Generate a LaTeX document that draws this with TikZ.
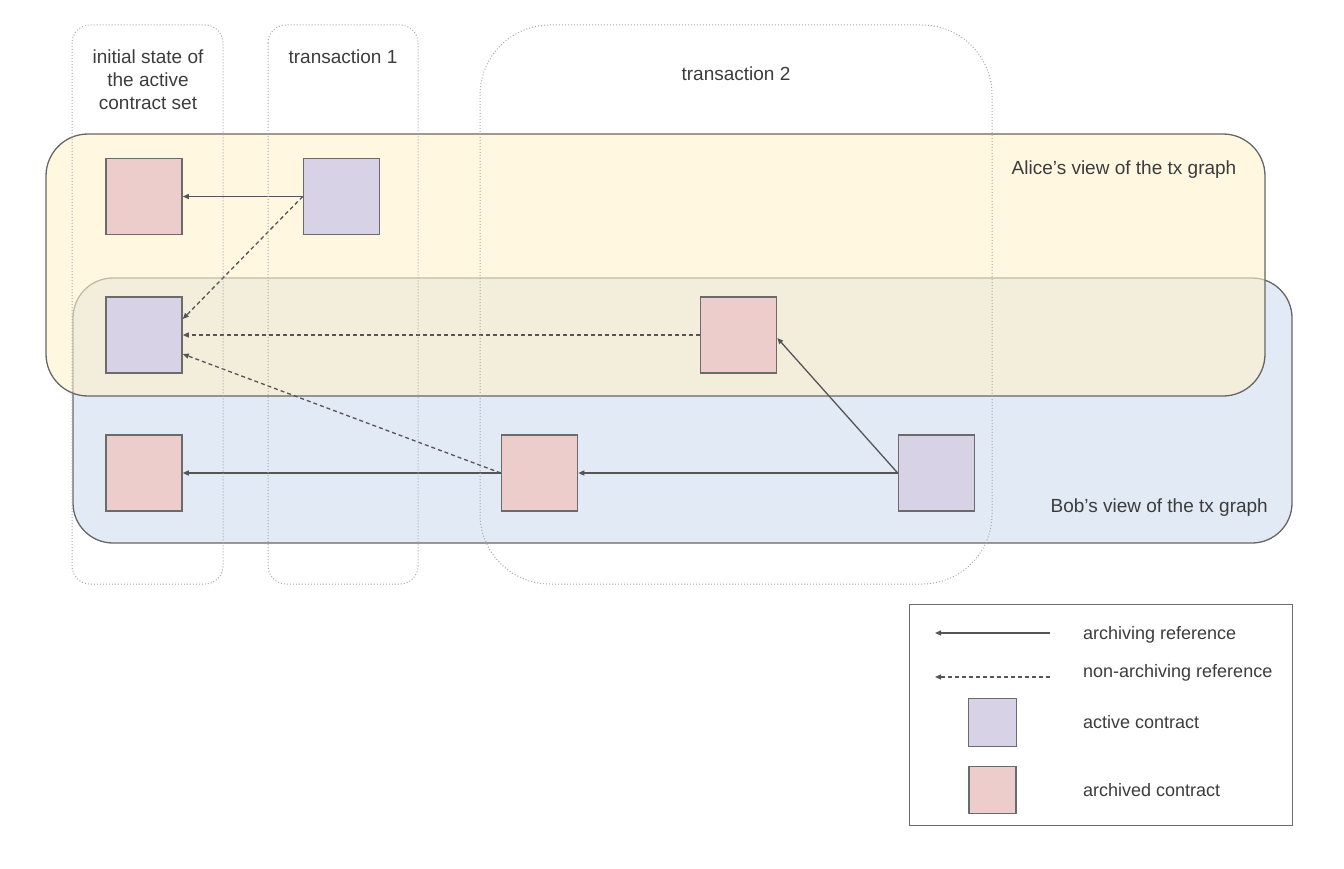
\documentclass[tikz,border=0pt]{standalone}
\usepackage{fontspec}
\setmainfont{Liberation Sans}
\usetikzlibrary{arrows.meta,calc}
\definecolor{txtgray}{HTML}{3C3C3C}
\definecolor{edgegray}{HTML}{555555}
\definecolor{boxgray}{HTML}{6B6B6B}
\definecolor{colgray}{HTML}{A8A8A8}
\definecolor{alicefill}{HTML}{FFF2CC}
\definecolor{bobfill}{HTML}{CFDCEE}
\definecolor{activefill}{HTML}{D8D2E7}
\definecolor{archfill}{HTML}{EDCDCC}
\begin{document}
\begin{tikzpicture}[x=1pt,y=-1pt,
  contract/.style={draw=boxgray,line width=1.6pt,minimum size=76pt,inner sep=0pt},
  activebox/.style={contract,fill=activefill},
  archbox/.style={contract,fill=archfill},
  colbox/.style={draw=colgray,line width=1pt,dotted},
  viewbox/.style={draw=edgegray!90,line width=1.3pt},
  archref/.style={draw=edgegray,line width=1.3pt,-{Triangle[length=6pt,width=5pt]}},
  nonarchref/.style={archref,dash pattern=on 4pt off 3pt},
  lbl/.style={text=txtgray,font=\fontsize{19}{23}\selectfont,inner sep=0pt},
  leglbl/.style={text=txtgray,font=\fontsize{18}{22}\selectfont,inner sep=0pt,anchor=west}
]
\useasboundingbox (0,0) rectangle (1344,869);
% views
\draw[viewbox,fill=bobfill,fill opacity=0.6,draw opacity=1,rounded corners=40pt] (73,278) rectangle (1292,543);
\draw[viewbox,fill=alicefill,fill opacity=0.6,draw opacity=1,rounded corners=42pt] (46,134) rectangle (1265,396);
% contracts
\node[archbox]   (A1) at (144,196.5) {};
\node[activebox] (A2) at (341.5,196.5) {};
\node[activebox] (M1) at (144,335) {};
\node[archbox]   (M2) at (738.5,335) {};
\node[archbox]   (B1) at (144,473) {};
\node[archbox]   (B2) at (539.5,473) {};
\node[activebox] (B3) at (936.5,473) {};
% references
\draw[archref] (A2.west) -- (A1.east);
\draw[nonarchref] (A2.west) -- ($(M1.east)+(0,-16)$);
\draw[nonarchref] (M2.west) -- (M1.east);
\draw[nonarchref] (B2.west) -- ($(M1.east)+(0,19)$);
\draw[archref] (B2.west) -- (B1.east);
\draw[archref] (B3.west) -- (B2.east);
\draw[archref] (B3.west) -- ($(M2.east)+(0,3)$);
% columns
\draw[colbox,rounded corners=18pt] (72,25) rectangle (223,584);
\draw[colbox,rounded corners=18pt] (268,25) rectangle (418,584);
\draw[colbox,rounded corners=70pt] (480,25) rectangle (992,584);
% labels
\node[lbl,align=center] (initlbl) at (148,80) {initial state of\\the active\\contract set};
\node[lbl] (t1lbl) at (343,57) {transaction 1};
\node[lbl] (t2lbl) at (736,74) {transaction 2};
\node[lbl] (alicelbl) at (1124,170) {Alice's view of the tx graph};
\node[lbl,anchor=east] (boblbl) at (1268,508) {Bob's view of the tx graph};
% legend
\node[draw=boxgray,line width=1pt,minimum width=383pt,minimum height=221pt,inner sep=0pt] (legend) at (1100.5,714.5) {};
\coordinate (ls1) at (1050,633);
\coordinate (le1) at (935,633);
\coordinate (ls2) at (1050,677);
\coordinate (le2) at (935,677);
\draw[archref] (ls1) -- (le1);
\draw[nonarchref] (ls2) -- (le2);
\node[activebox,minimum size=48pt] (legact) at (992.5,722.5) {};
\node[archbox,minimum size=47pt] (legarch) at (992.5,790) {};
\node[leglbl] (l1) at (1083,635) {archiving reference};
\node[leglbl] (l2) at (1083,673) {non-archiving reference};
\node[leglbl] (l3) at (1083,722) {active contract};
\node[leglbl] (l4) at (1083,790) {archived contract};
\end{tikzpicture}
\end{document}
